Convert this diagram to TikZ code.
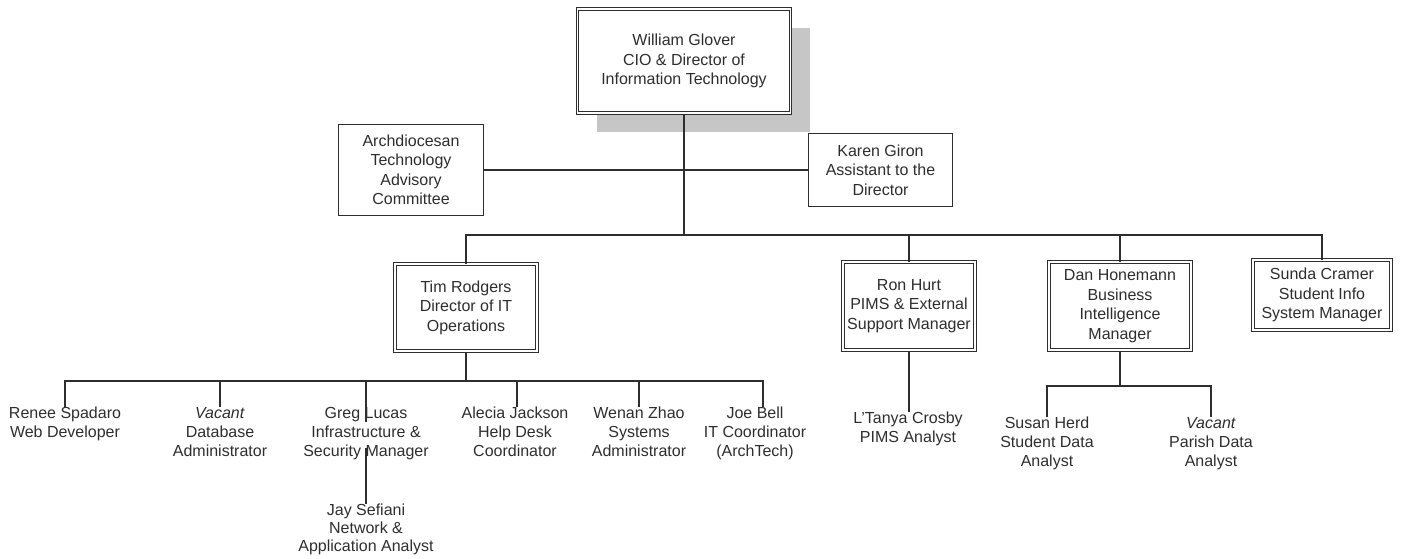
\documentclass[tikz,border=0pt]{standalone}
\usepackage{fontspec}
\setmainfont{Liberation Sans}
\usetikzlibrary{shadows}
\definecolor{ink}{HTML}{2E2E2E}

\begin{document}
\begin{tikzpicture}[x=1pt,y=-1pt,
    every node/.style={font=\fontsize{16}{19.5}\selectfont, text=ink, align=center},
    dbox/.style={draw=ink, double, double distance=1.8pt, line width=1pt, fill=white, inner sep=2pt},
    sbox/.style={draw=ink, line width=1.4pt, fill=white, inner sep=2pt},
    staff/.style={anchor=north, inner sep=0pt, font=\fontsize{16}{19}\selectfont},
    link/.style={draw=ink, line width=1.6pt}]
        \useasboundingbox (0,0) rectangle (1402,558);
        % DIRECTOR AND ADVISORS
        \node [dbox, minimum width=213pt, minimum height=104pt,
               drop shadow={shadow xshift=19pt, shadow yshift=-19pt, fill=gray!45, opacity=1}]
              (cio) at (684,61) {William Glover\\CIO \& Director of\\Information Technology};
        \node [sbox, minimum width=145pt, minimum height=91pt] (atac) at (411,170) {Archdiocesan\\Technology\\Advisory\\Committee};
        \node [sbox, minimum width=144pt, minimum height=73pt] (karen) at (880.5,170) {Karen Giron\\Assistant to the\\Director};
        % MANAGERS
        \node [dbox, minimum width=142pt, minimum height=87pt] (tim) at (466,307.5) {Tim Rodgers\\Director of IT\\Operations};
        \node [dbox, minimum width=132pt, minimum height=88pt] (ron) at (909,306) {Ron Hurt\\PIMS \& External\\Support Manager};
        \node [dbox, minimum width=142pt, minimum height=88pt] (dan) at (1120,306) {Dan Honemann\\Business\\Intelligence\\Manager};
        \node [dbox, minimum width=138pt, minimum height=70pt] (sunda) at (1322,295) {Sunda Cramer\\Student Info\\System Manager};
        % STAFF
        \node [staff] (renee) at (65,407) {Renee Spadaro\\Web Developer};
        \node [staff] (dba) at (220,407) {\textit{Vacant}\\Database\\Administrator};
        \node [staff] (greg) at (366,407) {Greg Lucas\\Infrastructure \&\\Security Manager};
        \node [staff] (alecia) at (515,407) {Alecia Jackson\\Help Desk\\Coordinator};
        \node [staff] (wenan) at (639,407) {Wenan Zhao\\Systems\\Administrator};
        \node [staff] (joe) at (755,407) {Joe Bell\\IT Coordinator\\(ArchTech)};
        \node [staff, font=\fontsize{16}{18}\selectfont] (jay) at (366,504) {Jay Sefiani\\Network \&\\Application Analyst};
        \node [staff] (ltanya) at (908,412) {L'Tanya Crosby\\PIMS Analyst};
        \node [staff] (susan) at (1047,417) {Susan Herd\\Student Data\\Analyst};
        \node [staff] (pda) at (1211,417) {\textit{Vacant}\\Parish Data\\Analyst};
        % JUNCTIONS
        \coordinate (hub) at (684,235);
        \coordinate (opshub) at (466,381);
        \coordinate (bihub) at (1120,386);
        % LINES
        \draw [link] (cio.south) -- (hub);
        \draw [link] (atac.east) -- (karen.west);
        \draw [link] (tim.north) |- (hub) -| (sunda.north);
        \draw [link] (ron.north) -- (ron.north |- hub);
        \draw [link] (dan.north) -- (dan.north |- hub);
        \draw [link] (tim.south) -- (opshub);
        \draw [link] (renee.north) |- (opshub) -| ([xshift=8pt]joe.north);
        \draw [link] (dba.north) -- (dba.north |- opshub);
        \draw [link] ([yshift=-15pt]greg.north) -- (greg.north |- opshub);
        \draw [link] ([xshift=2pt]alecia.north) -- ([xshift=2pt]alecia.north |- opshub);
        \draw [link] (wenan.north) -- (wenan.north |- opshub);
        \draw [link] ([yshift=12pt]greg.south) -- (jay.north);
        \draw [link] (ron.south) -- (ron.south |- ltanya.north);
        \draw [link] (dan.south) -- (bihub);
        \draw [link] (susan.north) |- (bihub) -| (pda.north);
\end{tikzpicture}
\end{document}
